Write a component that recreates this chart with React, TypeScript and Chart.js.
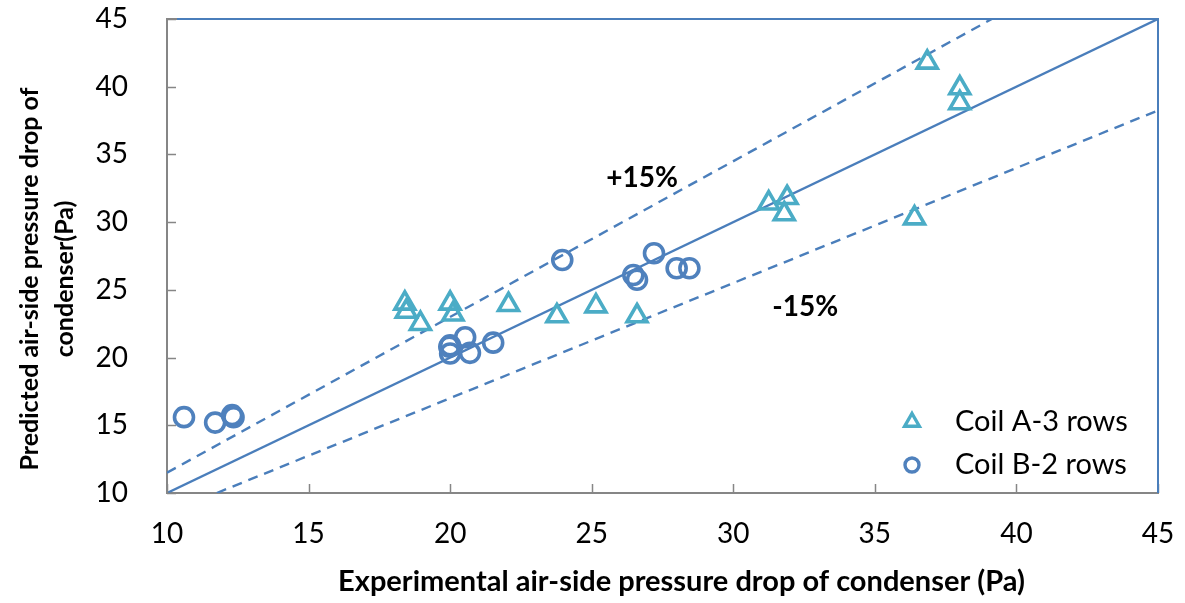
import React, { useEffect, useRef } from "react";
import { Chart, registerables } from "chart.js";

Chart.register(...registerables);

const seriesNames = ["Coil A-3 rows", "Coil B-2 rows"];

const coilAX = [18.4, 18.45, 18.95, 20.0, 20.1, 22.06, 23.77, 25.15, 26.6, 31.25, 31.9, 31.8, 36.4, 36.85, 38.0, 38.0];
const coilAY = [24.0, 23.4, 22.5, 24.0, 23.2, 23.9, 23.07, 23.8, 23.07, 31.4, 31.8, 30.6, 30.3, 41.8, 39.9, 38.8];

const coilBX = [10.6, 11.7, 12.3, 12.35, 20.0, 20.0, 19.97, 20.53, 20.7, 21.52, 23.96, 26.47, 26.6, 27.2, 28.0, 28.45];
const coilBY = [15.6, 15.2, 15.75, 15.6, 20.9, 20.3, 20.8, 21.5, 20.35, 21.1, 27.2, 26.1, 25.75, 27.7, 26.6, 26.6];

const refLineX = [10, 45];
const refLineY = [10, 45];
const plusLineX = [10, 39.13];
const plusLineY = [11.5, 45];
const minusLineX = [11.76, 45];
const minusLineY = [10, 38.25];

const xTicks = [10, 15, 20, 25, 30, 35, 40, 45];
const yTicks = [10, 15, 20, 25, 30, 35, 40, 45];

const xTitle = "Experimental air-side pressure drop of condenser (Pa)";
const yTitle = ["Predicted air-side pressure drop of", "condenser(Pa)"];
const plusLabel = "+15%";
const minusLabel = "-15%";
const plusLabelPos = [26.78, 33.26];
const minusLabelPos = [32.54, 23.74];

const FONT = "Lato, 'Open Sans', sans-serif";
const COLOR_A = "#4BACC6";
const COLOR_B = "#4F81BD";
const LINE_COLOR = "#4A7EBB";
const AXIS_COLOR = "#868686";

const pts = (xs: number[], ys: number[]) => xs.map((x, i) => ({ x, y: ys[i] }));

const decorPlugin = {
  id: "decor",
  afterDraw(chart: any) {
    const { ctx, chartArea, scales } = chart;
    const { left, right, top, bottom } = chartArea;
    const xs = scales.x;
    const ys = scales.y;
    ctx.save();
    // inner tick marks
    ctx.strokeStyle = AXIS_COLOR;
    ctx.lineWidth = 1.5;
    xTicks.forEach((v) => {
      const px = Math.round(xs.getPixelForValue(v)) + 0.5;
      ctx.beginPath();
      ctx.moveTo(px, bottom);
      ctx.lineTo(px, bottom - 9);
      ctx.stroke();
    });
    yTicks.forEach((v) => {
      const py = Math.round(ys.getPixelForValue(v)) + 0.5;
      ctx.beginPath();
      ctx.moveTo(left, py);
      ctx.lineTo(left + 9, py);
      ctx.stroke();
    });
    // top and right borders
    ctx.strokeStyle = LINE_COLOR;
    ctx.lineWidth = 2;
    ctx.beginPath();
    ctx.moveTo(left + 10, top);
    ctx.lineTo(right, top);
    ctx.lineTo(right, bottom);
    ctx.stroke();
    ctx.strokeStyle = AXIS_COLOR;
    ctx.beginPath();
    ctx.moveTo(left, top);
    ctx.lineTo(left + 10, top);
    ctx.stroke();

    // axis titles
    ctx.fillStyle = "#000";
    ctx.font = `bold 29px ${FONT}`;
    ctx.textAlign = "center";
    ctx.textBaseline = "middle";
    ctx.fillText(xTitle, (left + right) / 2 + 19, bottom + 89);

    ctx.save();
    ctx.translate(left - 137, 279);
    ctx.rotate(-Math.PI / 2);
    ctx.font = `bold 25px ${FONT}`;
    ctx.fillText(yTitle[0], 0, 0);
    ctx.fillText(yTitle[1], 0, 35);
    ctx.restore();

    // percentage labels
    ctx.font = `bold 28px ${FONT}`;
    ctx.fillText(plusLabel, xs.getPixelForValue(plusLabelPos[0]), ys.getPixelForValue(plusLabelPos[1]));
    ctx.fillText(minusLabel, xs.getPixelForValue(minusLabelPos[0]), ys.getPixelForValue(minusLabelPos[1]));

    // legend
    const lx = right - 246;
    const ly1 = bottom - 71;
    const ly2 = bottom - 28;
    ctx.lineWidth = 3.4;
    ctx.strokeStyle = COLOR_A;
    const r = 8.5;
    ctx.beginPath();
    ctx.moveTo(lx, ly1 - r);
    ctx.lineTo(lx + r * 0.866, ly1 + r / 2);
    ctx.lineTo(lx - r * 0.866, ly1 + r / 2);
    ctx.closePath();
    ctx.stroke();
    ctx.strokeStyle = COLOR_B;
    ctx.beginPath();
    ctx.arc(lx, ly2, 7, 0, Math.PI * 2);
    ctx.stroke();
    ctx.font = `29px ${FONT}`;
    ctx.textAlign = "left";
    ctx.fillText(seriesNames[0], lx + 43, ly1);
    ctx.fillText(seriesNames[1], lx + 43, ly2);
    ctx.restore();
  },
};

export default function App() {
  const ref = useRef<HTMLCanvasElement>(null);
  useEffect(() => {
    if (!ref.current) return;
    const chart = new Chart(ref.current, {
      type: "scatter",
      data: {
        datasets: [
          {
            label: seriesNames[0],
            data: pts(coilAX, coilAY),
            pointStyle: "triangle",
            pointRadius: 11.5,
            borderColor: COLOR_A,
            backgroundColor: "rgba(0,0,0,0)",
            borderWidth: 3.6,
          },
          {
            label: seriesNames[1],
            data: pts(coilBX, coilBY),
            pointStyle: "circle",
            pointRadius: 9.5,
            borderColor: COLOR_B,
            backgroundColor: "rgba(0,0,0,0)",
            borderWidth: 3.6,
          },
          {
            label: "y = x",
            data: pts(refLineX, refLineY),
            showLine: true,
            pointRadius: 0,
            borderColor: LINE_COLOR,
            borderWidth: 2.4,
          },
          {
            label: "+15%",
            data: pts(plusLineX, plusLineY),
            showLine: true,
            pointRadius: 0,
            borderColor: LINE_COLOR,
            borderWidth: 2.4,
            borderDash: [10, 7],
          },
          {
            label: "-15%",
            data: pts(minusLineX, minusLineY),
            showLine: true,
            pointRadius: 0,
            borderColor: LINE_COLOR,
            borderWidth: 2.4,
            borderDash: [10, 7],
          },
        ],
      } as any,
      options: {
        animation: false,
        responsive: true,
        maintainAspectRatio: false,
        layout: { padding: { left: 0, top: 19, right: 27, bottom: 0 } },
        plugins: { legend: { display: false }, tooltip: { enabled: false } },
        scales: {
          x: {
            type: "linear",
            min: 10,
            max: 45,
            afterBuildTicks: (s: any) => {
              s.ticks = xTicks.map((v) => ({ value: v }));
            },
            afterFit: (s: any) => {
              s.height = 110;
              s.paddingLeft = 0;
              s.paddingRight = 0;
            },
            ticks: { color: "#000", font: { family: FONT, size: 28 }, padding: 24 },
            grid: { display: true, drawOnChartArea: false, drawTicks: false },
            border: { display: true, color: AXIS_COLOR, width: 2 },
          },
          y: {
            type: "linear",
            min: 10,
            max: 45,
            afterBuildTicks: (s: any) => {
              s.ticks = yTicks.map((v) => ({ value: v }));
            },
            afterFit: (s: any) => {
              s.width = 167;
              s.paddingTop = 0;
              s.paddingBottom = 0;
            },
            ticks: { color: "#000", font: { family: FONT, size: 28 }, padding: 39 },
            grid: { display: true, drawOnChartArea: false, drawTicks: false },
            border: { display: true, color: AXIS_COLOR, width: 2 },
          },
        },
      } as any,
      plugins: [decorPlugin],
    });
    return () => chart.destroy();
  }, []);
  return (
    <div style={{ position: "absolute", left: 0, top: 0, width: 1185, height: 603, background: "#fff" }}>
      <canvas ref={ref} />
    </div>
  );
}
